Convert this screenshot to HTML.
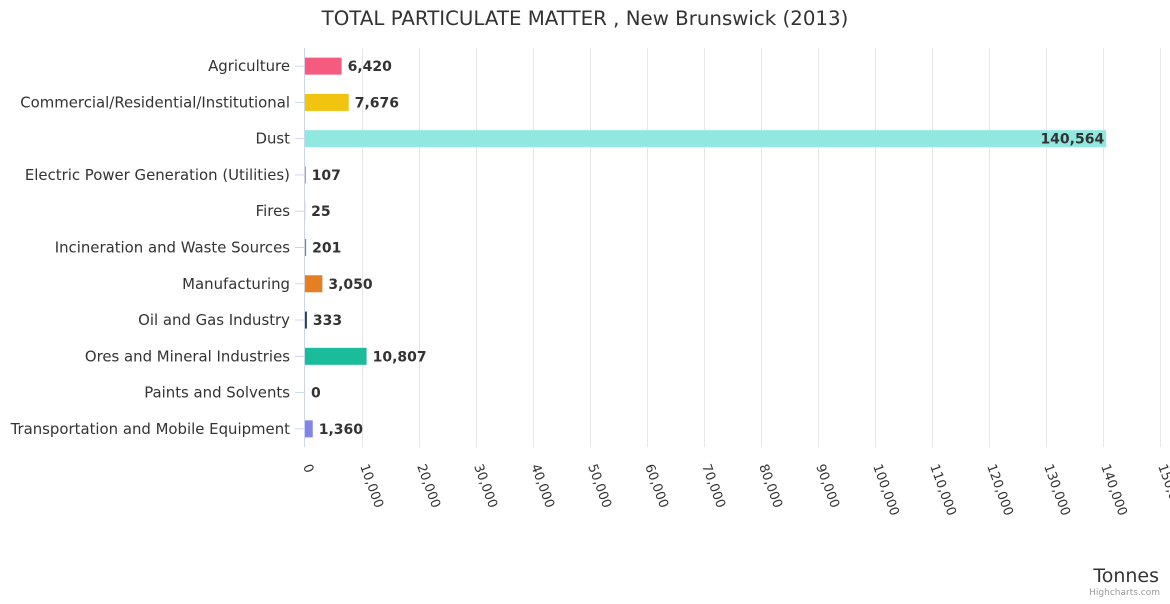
<!DOCTYPE html>
<html><head><meta charset="utf-8"><style>
body{margin:0;background:#fff;font-family:"DejaVu Sans",sans-serif}
svg text{font-family:"DejaVu Sans",sans-serif}
</style></head><body>
<svg id="chart" width="1170" height="600" xmlns="http://www.w3.org/2000/svg">
<text x="585" y="25" text-anchor="middle" font-size="19.8" fill="#333">TOTAL PARTICULATE MATTER , New Brunswick (2013)</text>
<g id="grid"></g><g id="bars"></g><g id="ylab"></g><g id="xlab"></g>
<text x="1159" y="582" text-anchor="end" font-size="19" fill="#333">Tonnes</text>
<text x="1160" y="595" text-anchor="end" font-size="9" fill="#999">Highcharts.com</text>
</svg>
<script>
const categories=["Agriculture","Commercial/Residential/Institutional","Dust","Electric Power Generation (Utilities)","Fires","Incineration and Waste Sources","Manufacturing","Oil and Gas Industry","Ores and Mineral Industries","Paints and Solvents","Transportation and Mobile Equipment"];
const values=[6420,7676,140564,107,25,201,3050,333,10807,0,1360];
const colors=["#f45b7f","#f1c40f","#91e8e1","#2b908f","#e74c3c","#7f8c8d","#e67e22","#2c3e50","#1abc9c","#9b59b6","#8085e9"];
const ticks=[0,10000,20000,30000,40000,50000,60000,70000,80000,90000,100000,110000,120000,130000,140000,150000];
const NS="http://www.w3.org/2000/svg";
const x0=305,x1=1160,yTop=48,yBot=447;
const xs=v=>x0+(v/150000)*(x1-x0);
const rowH=(yBot-yTop)/categories.length;
const yc=i=>yTop+rowH*(i+0.5);
function mk(t,a,p){const e=document.createElementNS(NS,t);for(const k in a)e.setAttribute(k,a[k]);document.getElementById(p).appendChild(e);return e;}
ticks.forEach((t,i)=>{
 if(i>0){const g=mk('line',{x1:xs(t)+0.5,x2:xs(t)+0.5,y1:yTop,y2:yBot,stroke:'#e6e6e6'},'grid');
 
 }
 const lx=xs(t)-2, ly=466;
 const tx=mk('text',{x:lx,y:ly,'font-size':13,fill:'#333',transform:`rotate(70 ${lx} ${ly})`},'xlab');
 tx.textContent=t.toLocaleString('en-US');
 
 
});
const ax=mk('line',{x1:x0-0.5,x2:x0-0.5,y1:yTop,y2:yBot,stroke:'#ccd6eb'},'grid');


categories.forEach((c,i)=>{
 const y=yc(i);
 const tk=mk('line',{x1:x0-10,x2:x0,y1:y,y2:y,stroke:'#ccd6eb'},'grid');
 
 
 const l=mk('text',{x:290,y:y+5,'text-anchor':'end','font-size':14.9,fill:'#333'},'ylab');
 l.textContent=c;
 
 
 const w=xs(values[i])-x0;
 const b=mk('rect',{x:x0,y:y-8.5,width:Math.max(w,0),height:17,fill:colors[i]},'bars');
 
 
 const inside=w>700;
 const v=mk('text',{x:inside?x0+w-2:x0+w+6,y:y+5,'text-anchor':inside?'end':'start','font-size':14,'font-weight':'bold',fill:'#333'},'bars');
 v.textContent=values[i].toLocaleString('en-US');
 
 
});
</script>
</body></html>
